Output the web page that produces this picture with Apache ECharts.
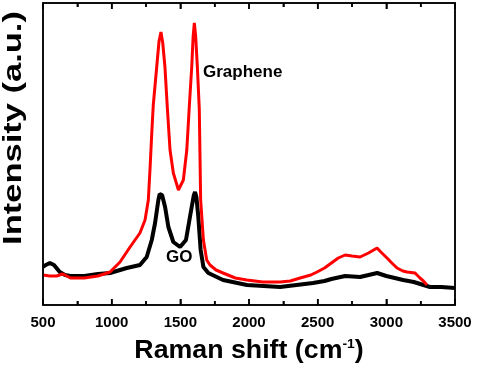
<!DOCTYPE html>
<html>
<head>
<meta charset="utf-8">
<script src="https://cdn.jsdelivr.net/npm/echarts@6/dist/echarts.min.js"></script>
<style>html,body{margin:0;padding:0;background:#fff}#c{width:477px;height:365px}</style>
</head>
<body>
<div id="c"></div>
<script>
const xTicks = [500, 1000, 1500, 2000, 2500, 3000, 3500];
const xMinorTicks = [750, 1250, 1750, 2250, 2750, 3250];
const grapheneShift = [500,550,600,640,660,700,800,900,988,1061,1134,1206,1243,1267,1280,1292,1303,1328,1345,1359,1372,1388,1405,1425,1449,1486,1522,1547,1566,1583,1593,1602,1612,1624,1638,1648,1668,1692,1716,1760,1811,1900,1985,2100,2226,2300,2372,2450,2495,2550,2600,2650,2700,2750,2809,2870,2933,2960,3005,3040,3078,3120,3151,3209,3245,3270,3296];
const grapheneIntensity = [30,29,29,31,30,27,27,29,33,43,58,72,85,105,138,172,200,238,264,273,262,238,198,155,132,115,125,155,200,238,268,282,268,238,196,105,65,45,40,35,32,27,25,23,23,24,27,30,33,37,42,47,50,49,48,52,57,53,47,42,37,34,33,32,27,24,20];
const goShift = [500,520,550,580,622,660,700,800,900,988,1110,1206,1255,1292,1316,1340,1350,1357,1367,1389,1413,1449,1498,1541,1570,1597,1607,1617,1631,1648,1668,1704,1811,1985,2226,2466,2550,2600,2700,2809,2933,3000,3122,3200,3318,3400,3500];
const goIntensity = [38,40,42,40,33,30,29,29,31,32,37,40,48,65,82,105,111,113,110,98,78,63,58,65,88,109,113,108,88,55,38,32,25,20,18,22,24,26,29,28,32,29,25,23,18,18,17];

const zip = (a, b) => a.map((v, i) => [v, b[i]]);
const chart = echarts.init(document.getElementById('c'));
const FONT = '"Liberation Sans", Arial, sans-serif';
function xAxisOpt(pos, labels) {
  return {
    type: 'value', min: 500, max: 3500, interval: 500, position: pos,
    axisLine: { show: true, onZero: false, lineStyle: { color: '#000000', width: 1.5 } },
    axisTick: { show: true, inside: true, length: 6, lineStyle: { color: '#000000', width: 1.5 } },
    minorTick: { show: true, splitNumber: 2, length: 4, lineStyle: { color: '#000000', width: 1.5 } },
    splitLine: { show: false },
    axisLabel: labels ? { show: true, color: '#000', fontFamily: FONT, fontWeight: 'bold', fontSize: 15, margin: 10,
      formatter: v => xTicks.includes(v) ? String(v) : '' } : { show: false }
  };
}
chart.setOption({
  animation: false,
  backgroundColor: '#fff',
  grid: { left: 43, right: 22, top: 3, bottom: 60, containLabel: false, outerBoundsMode: 'none' },
  xAxis: [xAxisOpt('bottom', true), xAxisOpt('top', false)],
  yAxis: [
    { type: 'value', min: 0, max: 302, position: 'left',
      axisLine: { show: true, onZero: false, lineStyle: { color: '#000', width: 1.5 } },
      axisTick: { show: false }, axisLabel: { show: false }, splitLine: { show: false } },
    { type: 'value', min: 0, max: 302, position: 'right',
      axisLine: { show: true, onZero: false, lineStyle: { color: '#000', width: 1.5 } },
      axisTick: { show: false }, axisLabel: { show: false }, splitLine: { show: false } }
  ],
  series: [
    { name: 'GO', type: 'line', data: zip(goShift, goIntensity), showSymbol: false,
      lineStyle: { color: '#000', width: 4 }, itemStyle: { color: '#000' }, z: 2 },
    { name: 'Graphene', type: 'line', data: zip(grapheneShift, grapheneIntensity), showSymbol: false,
      lineStyle: { color: '#ff0000', width: 3 }, itemStyle: { color: '#ff0000' }, z: 3 }
  ],
  graphic: [
    { type: 'text', left: 203, top: 64, style: { text: 'Graphene', fill: '#000', font: 'bold 17px ' + FONT } },
    { type: 'text', left: 166, top: 249, style: { text: 'GO', fill: '#000', font: 'bold 17px ' + FONT } },
    { type: 'text', x: 14, y: 128, rotation: Math.PI / 2, scaleX: 1.38,
      style: { text: 'Intensity (a.u.)', fill: '#000', font: 'bold 25px ' + FONT, align: 'center', verticalAlign: 'middle' } },
    { type: 'text', x: 249, y: 351, scaleX: 1.07,
      style: { text: 'Raman shift (cm{sup|-1})', fill: '#000', font: 'bold 25px ' + FONT, align: 'center', verticalAlign: 'middle',
        rich: { sup: { font: 'bold 13px ' + FONT, fill: '#000', padding: [0, 0, 14, 0] } } } }
  ]
});

// Frame and tick marks placed through the chart's own x scale
const rect = chart.getModel().getComponent('grid', 0).coordinateSystem.getRect();
const frameEls = [
  { type: 'rect', id: 'frame', z: 100, silent: true,
    shape: { x: rect.x, y: rect.y, width: rect.width, height: rect.height },
    style: { fill: 'none', stroke: '#000', lineWidth: 1.5 } }
];
function addTick(v, len, k) {
  const px = chart.convertToPixel({ xAxisIndex: 0 }, v);
  frameEls.push({ type: 'rect', id: 'tb' + k, z: 100, silent: true,
    shape: { x: px - 0.75, y: rect.y + rect.height - len, width: 1.5, height: len }, style: { fill: '#000' } });
  frameEls.push({ type: 'rect', id: 'tt' + k, z: 100, silent: true,
    shape: { x: px - 0.75, y: rect.y, width: 1.5, height: len }, style: { fill: '#000' } });
}
xTicks.forEach((v, i) => addTick(v, 6, 'M' + i));
xMinorTicks.forEach((v, i) => addTick(v, 4, 'm' + i));
chart.setOption({ graphic: frameEls });
</script>
</body>
</html>
